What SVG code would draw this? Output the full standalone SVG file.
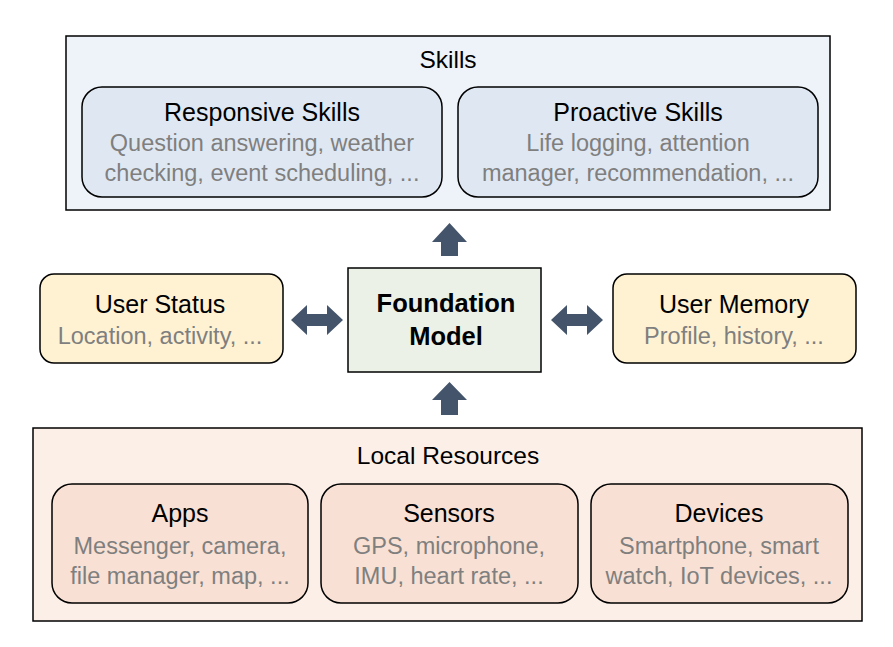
<svg xmlns="http://www.w3.org/2000/svg" width="893" height="647" viewBox="0 0 893 647">
<defs>
<style>
text{font-family:"Liberation Sans","DejaVu Sans",sans-serif;text-anchor:middle;}
.t{font-size:24.5px;fill:#000;}
.h{font-size:25px;fill:#000;}
.g{font-size:23.5px;fill:#7f7f7f;}
.b{font-size:25.5px;font-weight:bold;fill:#000;}
.box{stroke:#000;stroke-width:1.5;}
.arr{fill:#44546a;}
</style>
</defs>
<rect width="893" height="647" fill="#fff"/>
<g id="skills">
<rect class="box" x="66" y="36" width="764" height="174" fill="#eef3f9"/>
<text class="t" x="448" y="68">Skills</text>
</g>
<g id="responsive">
<rect class="box" x="82" y="87" width="360" height="110" rx="20" fill="#dfe8f2"/>
<text class="h" x="262" y="121">Responsive Skills</text>
<text class="g" x="262" y="151">Question answering, weather</text>
<text class="g" x="262" y="181">checking, event scheduling, ...</text>
</g>
<g id="proactive">
<rect class="box" x="458" y="87" width="360" height="110" rx="20" fill="#dfe8f2"/>
<text class="h" x="638" y="121">Proactive Skills</text>
<text class="g" x="638" y="151">Life logging, attention</text>
<text class="g" x="638" y="181">manager, recommendation, ...</text>
</g>
<g id="status">
<rect class="box" x="40" y="274" width="243" height="89" rx="14" fill="#fef2d3"/>
<text class="h" x="160" y="313">User Status</text>
<text class="g" x="160" y="344">Location, activity, ...</text>
</g>
<g id="foundation">
<rect class="box" x="348" y="268" width="193" height="104" fill="#ebf1e7"/>
<text class="b" x="446" y="312">Foundation</text>
<text class="b" x="446" y="345">Model</text>
</g>
<g id="memory">
<rect class="box" x="613" y="274" width="243" height="89" rx="14" fill="#fef2d3"/>
<text class="h" x="734" y="313">User Memory</text>
<text class="g" x="734" y="344">Profile, history, ...</text>
</g>
<g id="local">
<rect class="box" x="33" y="428" width="829" height="193" fill="#fbefe7"/>
<text class="t" x="448" y="464">Local Resources</text>
</g>
<g id="apps">
<rect class="box" x="52" y="484" width="256" height="119" rx="20" fill="#f8e1d4"/>
<text class="h" x="180" y="522">Apps</text>
<text class="g" x="180" y="554">Messenger, camera,</text>
<text class="g" x="180" y="584">file manager, map, ...</text>
</g>
<g id="sensors">
<rect class="box" x="321" y="484" width="257" height="119" rx="20" fill="#f8e1d4"/>
<text class="h" x="449" y="522">Sensors</text>
<text class="g" x="449" y="554">GPS, microphone,</text>
<text class="g" x="449" y="584">IMU, heart rate, ...</text>
</g>
<g id="devices">
<rect class="box" x="591" y="484" width="257" height="119" rx="20" fill="#f8e1d4"/>
<text class="h" x="719" y="522">Devices</text>
<text class="g" x="719" y="554">Smartphone, smart</text>
<text class="g" x="719" y="584">watch, IoT devices, ...</text>
</g>
<g id="connectors">
<polygon class="arr" points="449.5,223 467,242 458,242 458,256 441,256 441,242 432,242"/>
<polygon class="arr" points="449.5,382 467,400 458,400 458,415 441,415 441,400 432,400"/>
<polygon class="arr" points="291,320 307,305 307,314 327,314 327,305 343,320 327,335 327,326 307,326 307,335"/>
<polygon class="arr" points="551,320 567,305 567,314 587,314 587,305 603,320 587,335 587,326 567,326 567,335"/>
</g>
</svg>
